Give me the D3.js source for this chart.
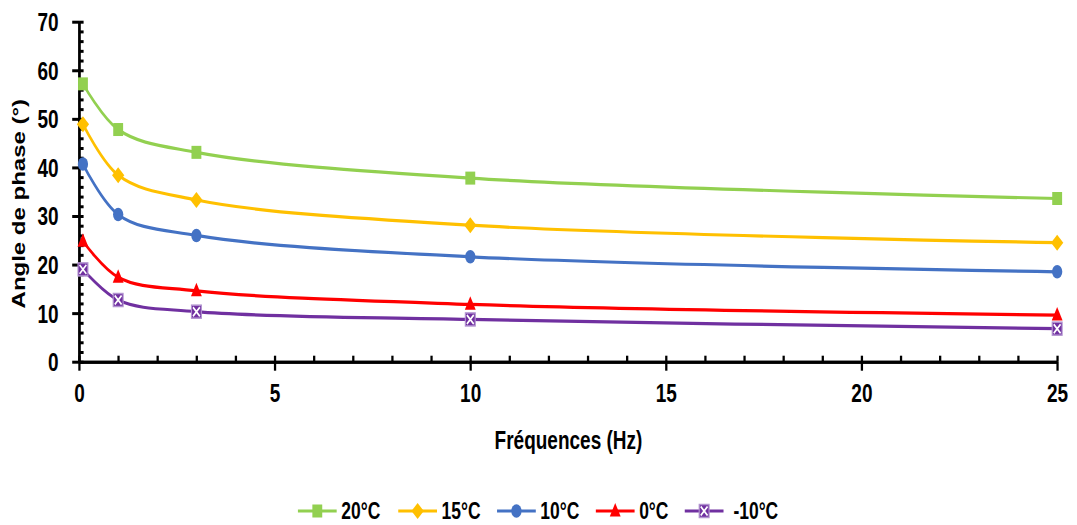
<!DOCTYPE html>
<html>
<head>
<meta charset="utf-8">
<script src="https://cdn.jsdelivr.net/npm/d3@7"></script>
<style>
  html, body { margin: 0; padding: 0; background: #fff; }
  svg { display: block; }
  text { font-family: "Liberation Sans", Arial, sans-serif; font-weight: bold; fill: #000; }
</style>
</head>
<body>
<script>
// ---- data ----
const frequencies = [0.1, 1, 3, 10, 25];
const seriesNames = ["20°C", "15°C", "10°C", "0°C", "-10°C"];
const values20 = [57.2, 47.8, 43.1, 37.8, 33.6];
const values15 = [48.9, 38.4, 33.3, 28.1, 24.5];
const values10 = [40.7, 30.3, 26.0, 21.6, 18.5];
const values0 = [24.8, 17.4, 14.6, 11.8, 9.6];
const valuesM10 = [19.0, 12.7, 10.3, 8.7, 6.8];
const xTicks = [0, 5, 10, 15, 20, 25];
const yTicks = [0, 10, 20, 30, 40, 50, 60, 70];
const xLabel = "Fréquences (Hz)";
const yLabel = "Angle de phase (°)";

const colors = ["#92D050", "#FFC000", "#4472C4", "#FF0000", "#7030A0"];
const markers = ["square", "diamond", "circle", "triangle", "xsquare"];
const allValues = [values20, values15, values10, values0, valuesM10];

// ---- layout (internal coords, horizontally compressed to fit) ----
const W = 1077, H = 525, K = 0.76;
const IW = W / K;
const svg = d3.select("body").append("svg")
  .attr("width", W).attr("height", H)
  .attr("viewBox", `0 0 ${IW} ${H}`)
  .attr("preserveAspectRatio", "none");

const x = d3.scaleLinear().domain([0, 25]).range([104, 1391]);
const y = d3.scaleLinear().domain([0, 70]).range([361.7, 21.7]);

// axes
const yAxis = svg.append("g").attr("transform", `translate(${x(0)},0)`)
  .call(d3.axisLeft(y).tickValues(yTicks).tickSize(9).tickSizeOuter(0).tickPadding(18));
const yMinor = svg.append("g").attr("transform", `translate(${x(0)},0)`)
  .call(d3.axisRight(y).tickValues(d3.range(0, 71, 2)).tickSize(6).tickSizeOuter(0).tickFormat(""));
const xAxis = svg.append("g").attr("transform", `translate(0,${y(0)})`)
  .call(d3.axisBottom(x).tickValues(xTicks).tickSize(9).tickSizeOuter(0).tickPadding(14));
const xMinor = svg.append("g").attr("transform", `translate(0,${y(0)})`)
  .call(d3.axisTop(x).tickValues(d3.range(0, 26, 1)).tickSize(6).tickSizeOuter(0).tickFormat(""));

[yAxis, yMinor, xAxis, xMinor].forEach(g => {
  g.selectAll("path.domain").attr("stroke", "#000").attr("stroke-width", 3);
  g.selectAll(".tick line").attr("stroke", "#000").attr("stroke-width", 3);
  g.selectAll(".tick text").style("font-size", "25px").style("font-family", "'Liberation Sans', Arial, sans-serif").style("font-weight", "bold").attr("fill", "#000");
});
yAxis.selectAll(".tick text").attr("dy", "0.36em");

// titles
svg.append("text")
  .attr("transform", `translate(33,${(y(0) + y(70)) / 2 + 12}) rotate(-90)`)
  .attr("text-anchor", "middle")
  .style("font-size", "24px")
  .text(yLabel);
svg.append("text")
  .attr("x", 748).attr("y", 449)
  .attr("text-anchor", "middle")
  .style("font-size", "25px")
  .text(xLabel);

// marker drawing
function drawMarker(g, type, color, s) {
  if (type === "square") {
    g.append("rect").attr("x", -s / 2).attr("y", -s / 2).attr("width", s).attr("height", s).attr("fill", color);
  } else if (type === "diamond") {
    const r = s * 0.62;
    g.append("path").attr("d", `M0,${-r}L${r},0L0,${r}L${-r},0Z`).attr("fill", color);
  } else if (type === "circle") {
    g.append("circle").attr("r", s * 0.52).attr("fill", color);
  } else if (type === "triangle") {
    const h = s * 1.0;
    g.append("path").attr("d", `M0,${-h * 0.62}L${s * 0.55},${h * 0.42}L${-s * 0.55},${h * 0.42}Z`).attr("fill", color);
  } else if (type === "xsquare") {
    const a = s / 2;
    g.append("rect").attr("x", -a).attr("y", -a).attr("width", s).attr("height", s)
      .attr("fill", color).attr("stroke", "#B293D0").attr("stroke-width", 1.5);
    g.append("path").attr("d", `M${-a + 2},${-a + 2}L${a - 2},${a - 2}M${a - 2},${-a + 2}L${-a + 2},${a - 2}`)
      .attr("stroke", "#fff").attr("stroke-width", 2);
  }
}

// series
const line = d3.line().x(d => x(d[0])).y(d => y(d[1])).curve(d3.curveCatmullRom.alpha(0.5));
const ms = 13;
allValues.slice().reverse().forEach((vals, ri) => {
  const i = allValues.length - 1 - ri;
  const pts = frequencies.map((f, j) => [f, vals[j]]);
  svg.append("path").attr("d", line(pts)).attr("fill", "none")
    .attr("stroke", colors[i]).attr("stroke-width", 3.2).attr("stroke-linejoin", "round");
  pts.forEach(p => {
    const g = svg.append("g").attr("transform", `translate(${x(p[0])},${y(p[1])})`);
    drawMarker(g, markers[i], colors[i], ms);
  });
});

// legend
const legendX = [392, 524, 654, 784, 901];
const legendY = 511;
seriesNames.forEach((name, i) => {
  const lx = legendX[i];
  svg.append("line").attr("x1", lx).attr("x2", lx + 51).attr("y1", legendY).attr("y2", legendY)
    .attr("stroke", colors[i]).attr("stroke-width", 3.2);
  const g = svg.append("g").attr("transform", `translate(${lx + 25.5},${legendY})`);
  drawMarker(g, markers[i], colors[i], ms);
  svg.append("text").attr("x", lx + 57 + (i === 4 ? 7 : 0)).attr("y", legendY + 8)
    .style("font-size", "23px").text(name);
});
</script>
</body>
</html>
